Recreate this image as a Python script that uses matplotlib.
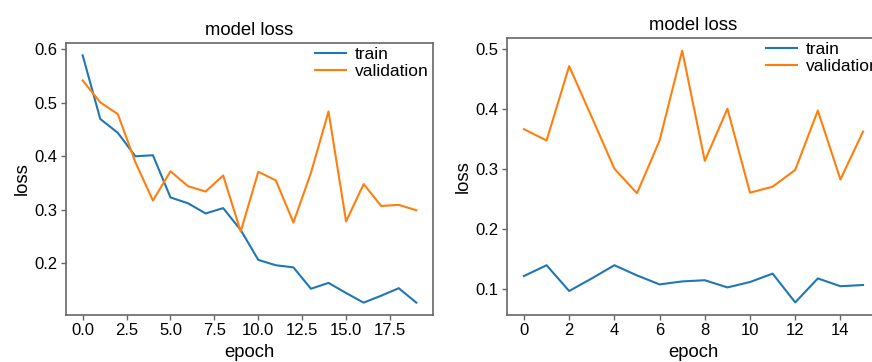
import matplotlib
matplotlib.use("Agg")
import matplotlib.pyplot as plt

plt.rcParams['font.family'] = ['Liberation Sans', 'DejaVu Sans']

epochs_a = list(range(20))
train_a = [0.589, 0.470, 0.444, 0.400, 0.402, 0.323, 0.312, 0.293, 0.303, 0.262,
           0.206, 0.196, 0.192, 0.152, 0.163, 0.144, 0.126, 0.139, 0.153, 0.126]
val_a = [0.542, 0.501, 0.479, 0.389, 0.317, 0.372, 0.344, 0.334, 0.364, 0.259,
         0.371, 0.355, 0.276, 0.369, 0.484, 0.278, 0.348, 0.307, 0.309, 0.299]
xticks_a = [0.0, 2.5, 5.0, 7.5, 10.0, 12.5, 15.0, 17.5]

epochs_b = list(range(16))
train_b = [0.121, 0.139, 0.096, 0.117, 0.139, 0.122, 0.107, 0.112, 0.114, 0.102,
           0.111, 0.125, 0.077, 0.117, 0.104, 0.106]
val_b = [0.366, 0.347, 0.471, 0.386, 0.300, 0.259, 0.347, 0.497, 0.313, 0.400,
         0.260, 0.270, 0.298, 0.397, 0.282, 0.362]
xticks_b = [0, 2, 4, 6, 8, 10, 12, 14]

W, H = 872, 362
fig = plt.figure(figsize=(W / 100, H / 100), dpi=100)

def box(l, r, t, b):
    return [l / W, (H - b) / H, (r - l) / W, (b - t) / H]

ax1 = fig.add_axes(box(66, 433, 43, 315))
ax2 = fig.add_axes(box(507, 880, 38, 315))

spine_c = '#666666'
for ax, ep, tr, va, xt, anchor in [(ax1, epochs_a, train_a, val_a, xticks_a, (1.0, 1.0)),
                                   (ax2, epochs_b, train_b, val_b, xticks_b, (1.011, 1.0))]:
    ax.plot(ep, tr, color='#1f77b4', lw=1.5, label='train')
    ax.plot(ep, va, color='#ff7f0e', lw=1.5, label='validation')
    ax.set_xticks(xt)
    ax.set_title('model loss', fontsize=13.3, pad=6)
    ax.set_xlabel('epoch', fontsize=13.3, labelpad=4)
    ax.set_ylabel('loss', fontsize=13.3, labelpad=3)
    ax.tick_params(labelsize=12, color=spine_c, length=3.5, width=1, pad=2.5)
    for s in ax.spines.values():
        s.set_color(spine_c)
        s.set_linewidth(1.2)
    ax.legend(loc='upper right', bbox_to_anchor=anchor, frameon=False, fontsize=12.5,
              handlelength=1.8, handletextpad=0.5, borderaxespad=-0.15,
              labelspacing=0.1)

fig.savefig('out.png', dpi=100)
